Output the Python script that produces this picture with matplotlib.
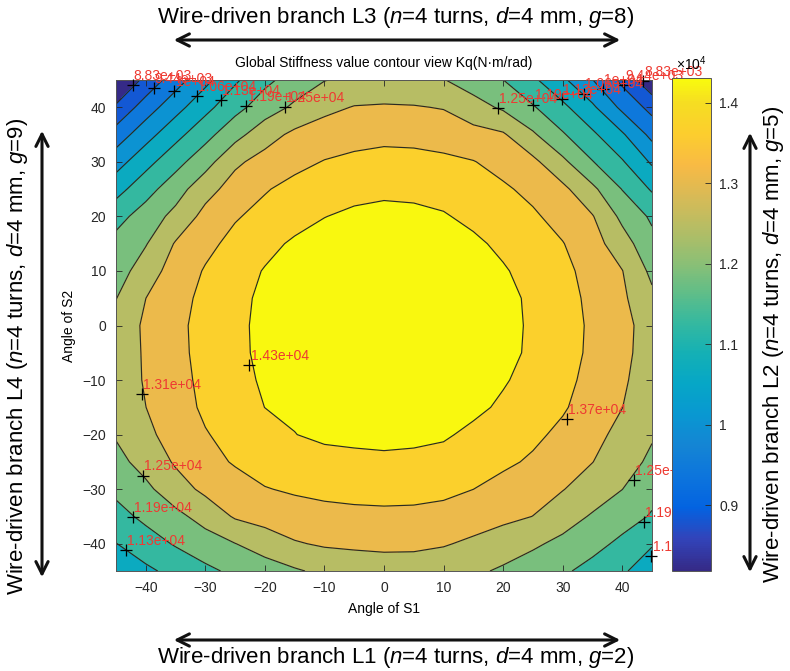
import numpy as np
import matplotlib
matplotlib.use('Agg')
import matplotlib.pyplot as plt
from matplotlib.colors import LinearSegmentedColormap, Normalize
from matplotlib.cm import ScalarMappable
from matplotlib.patches import FancyArrowPatch

plt.rcParams['font.family'] = ['Liberation Sans', 'DejaVu Sans']
plt.rcParams['mathtext.fontset'] = 'custom'
plt.rcParams['mathtext.rm'] = 'Liberation Sans'
plt.rcParams['mathtext.it'] = 'Liberation Sans:italic'

# grid (deg); Kq values in N*m/rad
angle_s1 = list(range(-45, 46, 5))
angle_s2 = list(range(45, -46, -5))
kq = [
    [8200, 8989, 9778, 10486, 11160, 11719, 12109, 12446, 12600, 12650, 12610, 12490, 12185, 11866, 11365, 10762, 10056, 9293, 8350],
    [8914, 9731, 10429, 11073, 11666, 12163, 12571, 12920, 13100, 13130, 13110, 13040, 12697, 12374, 11915, 11392, 10756, 9900, 9240],
    [9700, 10411, 11061, 11662, 12260, 12830, 13200, 13360, 13480, 13526, 13500, 13420, 13280, 13140, 12550, 11921, 11364, 10727, 9869],
    [10394, 11052, 11658, 12230, 12968, 13280, 13517, 13704, 13800, 13870, 13860, 13800, 13700, 13483, 13213, 12600, 11886, 11311, 10561],
    [11028, 11637, 12194, 12859, 13311, 13633, 13854, 13998, 14112, 14179, 14153, 14084, 13945, 13760, 13531, 13212, 12600, 11840, 11187],
    [11650, 12123, 12646, 13252, 13626, 13856, 14064, 14272, 14390, 14430, 14410, 14330, 14151, 13956, 13760, 13469, 13108, 12325, 11759],
    [12049, 12428, 13120, 13524, 13846, 14116, 14370, 14503, 14583, 14609, 14590, 14515, 14390, 14164, 13932, 13701, 13314, 12726, 12042],
    [12173, 12783, 13325, 13726, 14029, 14320, 14500, 14637, 14717, 14743, 14725, 14650, 14520, 14340, 14079, 13815, 13487, 13088, 12326],
    [12450, 13070, 13471, 13823, 14126, 14400, 14583, 14716, 14796, 14823, 14810, 14740, 14610, 14430, 14191, 13882, 13551, 13177, 12598],
    [12735, 13156, 13540, 13866, 14160, 14420, 14610, 14743, 14823, 14850, 14830, 14760, 14630, 14450, 14206, 13906, 13591, 13231, 12830],
    [12720, 13141, 13525, 13856, 14153, 14410, 14600, 14735, 14815, 14842, 14822, 14750, 14620, 14440, 14189, 13892, 13577, 13216, 12810],
    [12700, 13130, 13490, 13816, 14105, 14360, 14490, 14627, 14712, 14743, 14720, 14645, 14515, 14332, 14114, 13831, 13512, 13151, 12780],
    [12620, 13068, 13442, 13770, 14027, 14288, 14356, 14494, 14578, 14609, 14587, 14511, 14400, 14201, 13969, 13738, 13423, 13079, 12670],
    [12520, 12942, 13308, 13644, 13859, 14059, 14275, 14380, 14410, 14438, 14414, 14350, 14167, 13979, 13791, 13554, 13245, 12905, 12527],
    [12280, 12693, 13139, 13476, 13733, 13915, 14007, 14112, 14153, 14176, 14150, 14099, 13937, 13783, 13600, 13341, 13082, 12738, 12340],
    [11995, 12331, 12822, 13202, 13427, 13651, 13750, 13815, 13856, 13876, 13860, 13811, 13680, 13486, 13291, 13095, 12791, 12472, 12036],
    [11653, 11995, 12301, 12698, 13135, 13301, 13424, 13505, 13541, 13557, 13548, 13488, 13352, 13216, 13066, 12732, 12406, 12106, 11810],
    [11240, 11591, 11914, 12185, 12455, 12738, 13021, 13142, 13178, 13200, 13185, 13120, 12963, 12761, 12559, 12320, 12049, 11730, 11297],
    [10900, 11134, 11434, 11734, 11980, 12188, 12395, 12600, 12720, 12790, 12800, 12700, 12570, 12384, 12167, 11951, 11665, 11328, 10950],
]
levels = [8830, 9436, 10042, 10648, 11254, 11860, 12466, 13072, 13678, 14284]
kq_range = [8180, 14310]
cbar_ticks = [9000, 10000, 11000, 12000, 13000, 14000]
cbar_labels = ['0.9', '1', '1.1', '1.2', '1.3', '1.4']

# clabel points: (S1, S2, index into levels)
label_pts = [
    (-42.2, 44.1, 0), (-38.7, 43.5, 1), (-35.2, 43.0, 2), (-31.4, 42.1, 3),
    (-27.4, 41.3, 4), (-23.1, 40.2, 5), (-16.7, 40.0, 6),
    (19.1, 39.8, 6), (25.1, 40.5, 5), (29.9, 41.5, 4), (33.5, 42.5, 3),
    (36.8, 43.3, 2), (40.3, 44.0, 1), (43.5, 44.8, 0),
    (-22.6, -7.3, 9), (-40.7, -12.5, 7), (-40.5, -27.5, 6),
    (-42.1, -35.1, 5), (-43.3, -41.2, 4),
    (30.7, -17.1, 8), (42.0, -28.4, 6), (43.6, -36.0, 5), (44.9, -42.3, 4),
]

# parula approximation
parula_rgb = [
    (0.2081, 0.1663, 0.5292), (0.1959, 0.2645, 0.7279), (0.0117, 0.3875, 0.8820),
    (0.0498, 0.4586, 0.8641), (0.0793, 0.5200, 0.8312), (0.0343, 0.5966, 0.8199),
    (0.0228, 0.6535, 0.7768), (0.0843, 0.6928, 0.7062), (0.2178, 0.7250, 0.6193),
    (0.3953, 0.7459, 0.5244), (0.5709, 0.7485, 0.4494), (0.7184, 0.7411, 0.3905),
    (0.8507, 0.7299, 0.3360), (0.9739, 0.7314, 0.2666), (0.9880, 0.8066, 0.1794),
    (0.9626, 0.8705, 0.1309), (0.9763, 0.9831, 0.0538),
]
pos = [i * 4 / 63 for i in range(16)] + [1.0]
parula = LinearSegmentedColormap.from_list('parula', list(zip(pos, parula_rgb)))
norm = Normalize(*kq_range)

X, Y = np.meshgrid(angle_s1, angle_s2)
Z = np.array(kq, dtype=float)

fig = plt.figure(figsize=(7.9, 6.71), dpi=100)
ax = fig.add_axes([116 / 790, 100 / 671, 536 / 790, 491 / 671])
cax = fig.add_axes([672 / 790, 100 / 671, 39 / 790, 493 / 671])

bounds = [Z.min() - 1] + levels + [Z.max() + 1]
band_colors = [parula(norm(v)) for v in [kq_range[0]] + levels]
ax.contourf(X, Y, Z, levels=bounds, colors=band_colors)
ax.contour(X, Y, Z, levels=levels, colors='#2a2a22', linewidths=0.85)

for sx, sy, li in label_pts:
    ax.plot(sx, sy, '+', color='k', ms=9, mew=0.9, clip_on=False, zorder=4)
    ax.text(sx + 0.2, sy + 0.4, '%.3g' % levels[li], color='#ee3a32',
            fontsize=10, ha='left', va='bottom', clip_on=False, zorder=5)

ax.set_xlim(-45, 45)
ax.set_ylim(-45, 45)
ax.set_xticks(range(-40, 41, 10))
ax.set_yticks(range(-40, 41, 10))
ax.tick_params(direction='in', top=True, right=True, length=4, width=0.6,
               labelsize=10, colors='#262626', pad=7)
for s in ax.spines.values():
    s.set_color('#555555')
    s.set_linewidth(0.7)
ax.set_xlabel('Angle of S1', fontsize=10, labelpad=5)
ax.set_ylabel('Angle of S2', fontsize=10, labelpad=5)
ax.set_title('Global Stiffness value contour view Kq(N\u00b7m/rad)', fontsize=10, pad=9)

cb = fig.colorbar(ScalarMappable(norm=norm, cmap=parula), cax=cax)
cb.set_ticks(cbar_ticks)
cb.set_ticklabels(cbar_labels)
cax.tick_params(direction='in', length=4, width=0.6, labelsize=10, colors='#262626', pad=6)
cb.outline.set_linewidth(0.7)
cb.outline.set_edgecolor('#555555')
fig.text(676 / 790, 1 - 64 / 671, r'$\times10^{4}$', fontsize=10, va='center')

# wire-driven branches around the plot
def arrow(p0, p1):
    fig.add_artist(FancyArrowPatch(p0, p1, transform=fig.transFigure,
                                   arrowstyle='<->', mutation_scale=22,
                                   lw=2.2, color='#111111'))

arrow((171 / 790, 1 - 40 / 671), (623 / 790, 1 - 40 / 671))
arrow((171 / 790, 1 - 640 / 671), (623 / 790, 1 - 640 / 671))
arrow((42 / 790, 1 - 580 / 671), (42 / 790, 1 - 128 / 671))
arrow((750 / 790, 1 - 575 / 671), (750 / 790, 1 - 130 / 671))

fig.text(396 / 790, 1 - 17 / 671, r'Wire-driven branch L3 ($n$=4 turns, $d$=4 mm, $g$=8)',
         fontsize=16, ha='center', va='center')
fig.text(396 / 790, 1 - 658 / 671, r'Wire-driven branch L1 ($n$=4 turns, $d$=4 mm, $g$=2)',
         fontsize=16, ha='center', va='center')
fig.text(18 / 790, 1 - 356 / 671, r'Wire-driven branch L4 ($n$=4 turns, $d$=4 mm, $g$=9)',
         fontsize=16, ha='center', va='center', rotation=90)
fig.text(774 / 790, 1 - 344 / 671, r'Wire-driven branch L2 ($n$=4 turns, $d$=4 mm, $g$=5)',
         fontsize=16, ha='center', va='center', rotation=90)

fig.savefig('out.png', dpi=100)
